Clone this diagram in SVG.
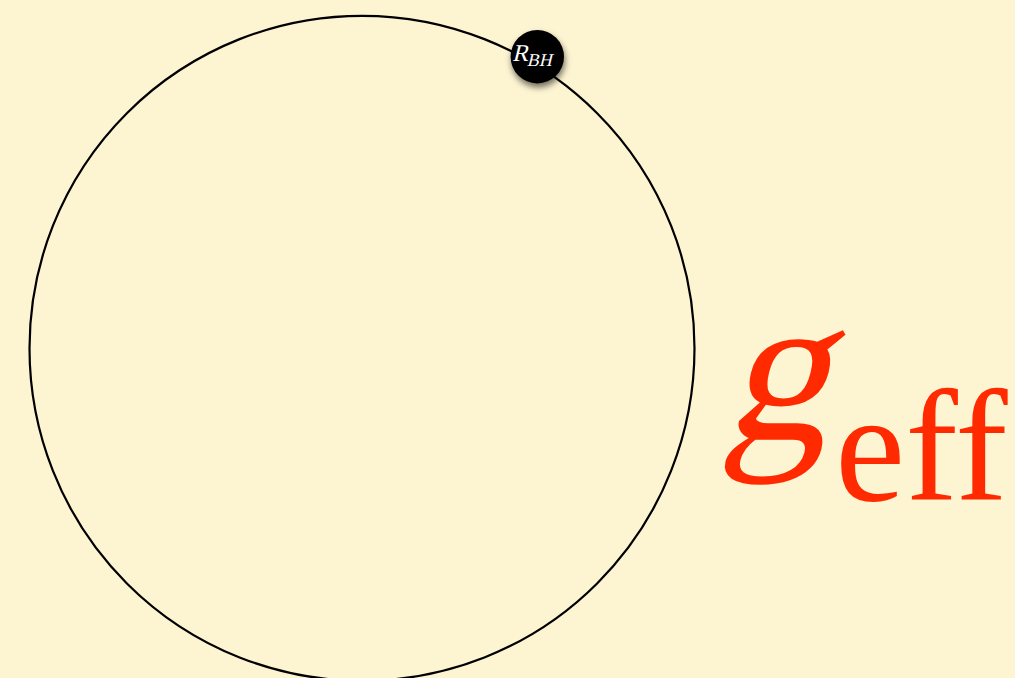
<svg xmlns="http://www.w3.org/2000/svg" width="1015" height="678" viewBox="0 0 1015 678">
  <style>
    .orbit { fill: none; stroke: #000; stroke-width: 2.2; }
    .lbl { font-family: "Liberation Serif", "Times New Roman", serif; fill: #fff; }
    .big { font-family: "Liberation Serif", "Times New Roman", serif; fill: #ff2a00; }
  </style>
  <defs>
    <filter id="shadow" x="-50%" y="-50%" width="200%" height="200%">
      <feDropShadow dx="1" dy="4" stdDeviation="3" flood-color="#000" flood-opacity="0.55"/>
    </filter>
  </defs>
  <rect width="1015" height="678" fill="#fdf4d2"/>
  <g id="connectors">
    <circle class="orbit" cx="362" cy="348.3" r="332.5"/>
  </g>
  <g id="bh">
    <circle cx="537.3" cy="56.7" r="26.7" fill="#000" filter="url(#shadow)"/>
    <text class="lbl" transform="translate(512,61) skewX(-14)" font-size="24">R<tspan font-size="18" dy="5">BH</tspan></text>
  </g>
  <g id="geff">
    <text class="big" transform="translate(722,439) skewX(-14)" font-size="212">g</text>
    <text class="big" x="835" y="500" font-size="158">eff</text>
  </g>
</svg>
